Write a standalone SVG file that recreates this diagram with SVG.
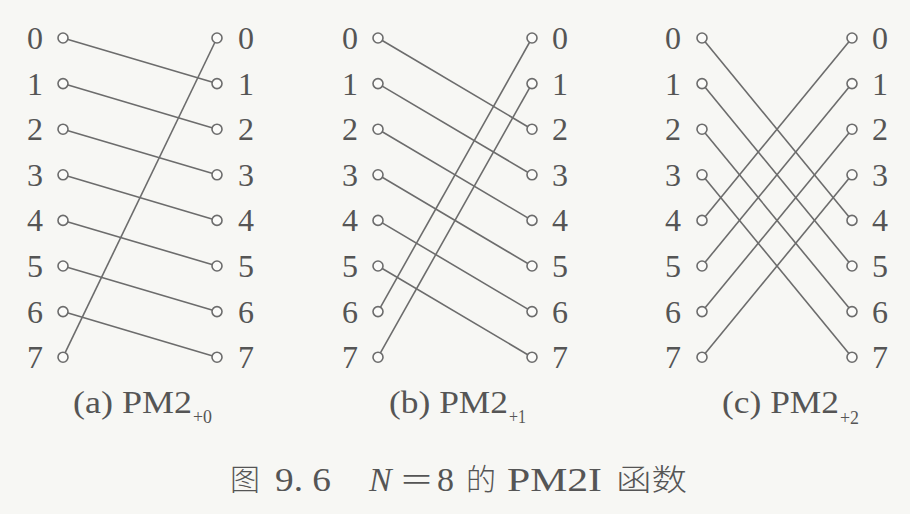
<svg xmlns="http://www.w3.org/2000/svg" width="910" height="514" viewBox="0 0 910 514">
<style>
.bg{fill:#f7f7f4}
.w{stroke:#6c6c6c;stroke-width:1.6;fill:none}
.p{fill:#fbfbf9;stroke:#6c6c6c;stroke-width:1.6}
.d{font-family:"Liberation Serif","Times New Roman",serif;font-size:32px;fill:#555;text-anchor:middle}
.cap{font-family:"Liberation Serif","Times New Roman",serif;font-size:31px;fill:#555}
.sub{font-family:"Liberation Serif","Times New Roman",serif;font-size:19px;fill:#555}
.main{font-family:"Liberation Serif","Times New Roman",serif;font-size:34px;fill:#555}
.cjk{font-family:"Noto Sans CJK SC",sans-serif;font-weight:300;font-size:30px;fill:#555}
</style>
<defs>
<circle id="pt" r="5" class="p"/>
</defs>
<rect class="bg" x="0" y="0" width="910" height="514"/>
<g id="connectors">
<!-- (a) PM2+0 : i -> i+1 -->
<line class="w" x1="63" y1="38" x2="217" y2="83.6"/>
<line class="w" x1="63" y1="83.6" x2="217" y2="129.2"/>
<line class="w" x1="63" y1="129.2" x2="217" y2="174.8"/>
<line class="w" x1="63" y1="174.8" x2="217" y2="220.4"/>
<line class="w" x1="63" y1="220.4" x2="217" y2="266"/>
<line class="w" x1="63" y1="266" x2="217" y2="311.6"/>
<line class="w" x1="63" y1="311.6" x2="217" y2="357.2"/>
<line class="w" x1="63" y1="357.2" x2="217" y2="38"/>
<!-- (b) PM2+1 : i -> i+2 -->
<line class="w" x1="378" y1="38" x2="532" y2="129.2"/>
<line class="w" x1="378" y1="83.6" x2="532" y2="174.8"/>
<line class="w" x1="378" y1="129.2" x2="532" y2="220.4"/>
<line class="w" x1="378" y1="174.8" x2="532" y2="266"/>
<line class="w" x1="378" y1="220.4" x2="532" y2="311.6"/>
<line class="w" x1="378" y1="266" x2="532" y2="357.2"/>
<line class="w" x1="378" y1="311.6" x2="532" y2="38"/>
<line class="w" x1="378" y1="357.2" x2="532" y2="83.6"/>
<!-- (c) PM2+2 : i -> i+4 -->
<line class="w" x1="702" y1="38" x2="852" y2="220.4"/>
<line class="w" x1="702" y1="83.6" x2="852" y2="266"/>
<line class="w" x1="702" y1="129.2" x2="852" y2="311.6"/>
<line class="w" x1="702" y1="174.8" x2="852" y2="357.2"/>
<line class="w" x1="702" y1="220.4" x2="852" y2="38"/>
<line class="w" x1="702" y1="266" x2="852" y2="83.6"/>
<line class="w" x1="702" y1="311.6" x2="852" y2="129.2"/>
<line class="w" x1="702" y1="357.2" x2="852" y2="174.8"/>
</g>

<!-- Panel (a) -->
<g id="a-in-0"><use href="#pt" x="63" y="38"/><text class="d" x="35" y="49">0</text></g>
<g id="a-in-1"><use href="#pt" x="63" y="83.6"/><text class="d" x="35" y="94.6">1</text></g>
<g id="a-in-2"><use href="#pt" x="63" y="129.2"/><text class="d" x="35" y="140.2">2</text></g>
<g id="a-in-3"><use href="#pt" x="63" y="174.8"/><text class="d" x="35" y="185.8">3</text></g>
<g id="a-in-4"><use href="#pt" x="63" y="220.4"/><text class="d" x="35" y="231.4">4</text></g>
<g id="a-in-5"><use href="#pt" x="63" y="266"/><text class="d" x="35" y="277">5</text></g>
<g id="a-in-6"><use href="#pt" x="63" y="311.6"/><text class="d" x="35" y="322.6">6</text></g>
<g id="a-in-7"><use href="#pt" x="63" y="357.2"/><text class="d" x="35" y="368.2">7</text></g>
<g id="a-out-0"><use href="#pt" x="217" y="38"/><text class="d" x="246" y="49">0</text></g>
<g id="a-out-1"><use href="#pt" x="217" y="83.6"/><text class="d" x="246" y="94.6">1</text></g>
<g id="a-out-2"><use href="#pt" x="217" y="129.2"/><text class="d" x="246" y="140.2">2</text></g>
<g id="a-out-3"><use href="#pt" x="217" y="174.8"/><text class="d" x="246" y="185.8">3</text></g>
<g id="a-out-4"><use href="#pt" x="217" y="220.4"/><text class="d" x="246" y="231.4">4</text></g>
<g id="a-out-5"><use href="#pt" x="217" y="266"/><text class="d" x="246" y="277">5</text></g>
<g id="a-out-6"><use href="#pt" x="217" y="311.6"/><text class="d" x="246" y="322.6">6</text></g>
<g id="a-out-7"><use href="#pt" x="217" y="357.2"/><text class="d" x="246" y="368.2">7</text></g>
<g id="a-caption"><text class="cap" x="73" y="413" textLength="119" lengthAdjust="spacingAndGlyphs">(a) PM2</text><text class="sub" x="193" y="423" textLength="19" lengthAdjust="spacingAndGlyphs">+0</text></g>

<!-- Panel (b) -->
<g id="b-in-0"><use href="#pt" x="378" y="38"/><text class="d" x="350" y="49">0</text></g>
<g id="b-in-1"><use href="#pt" x="378" y="83.6"/><text class="d" x="350" y="94.6">1</text></g>
<g id="b-in-2"><use href="#pt" x="378" y="129.2"/><text class="d" x="350" y="140.2">2</text></g>
<g id="b-in-3"><use href="#pt" x="378" y="174.8"/><text class="d" x="350" y="185.8">3</text></g>
<g id="b-in-4"><use href="#pt" x="378" y="220.4"/><text class="d" x="350" y="231.4">4</text></g>
<g id="b-in-5"><use href="#pt" x="378" y="266"/><text class="d" x="350" y="277">5</text></g>
<g id="b-in-6"><use href="#pt" x="378" y="311.6"/><text class="d" x="350" y="322.6">6</text></g>
<g id="b-in-7"><use href="#pt" x="378" y="357.2"/><text class="d" x="350" y="368.2">7</text></g>
<g id="b-out-0"><use href="#pt" x="532" y="38"/><text class="d" x="560" y="49">0</text></g>
<g id="b-out-1"><use href="#pt" x="532" y="83.6"/><text class="d" x="560" y="94.6">1</text></g>
<g id="b-out-2"><use href="#pt" x="532" y="129.2"/><text class="d" x="560" y="140.2">2</text></g>
<g id="b-out-3"><use href="#pt" x="532" y="174.8"/><text class="d" x="560" y="185.8">3</text></g>
<g id="b-out-4"><use href="#pt" x="532" y="220.4"/><text class="d" x="560" y="231.4">4</text></g>
<g id="b-out-5"><use href="#pt" x="532" y="266"/><text class="d" x="560" y="277">5</text></g>
<g id="b-out-6"><use href="#pt" x="532" y="311.6"/><text class="d" x="560" y="322.6">6</text></g>
<g id="b-out-7"><use href="#pt" x="532" y="357.2"/><text class="d" x="560" y="368.2">7</text></g>
<g id="b-caption"><text class="cap" x="389" y="413" textLength="119" lengthAdjust="spacingAndGlyphs">(b) PM2</text><text class="sub" x="509" y="423" textLength="17" lengthAdjust="spacingAndGlyphs">+1</text></g>

<!-- Panel (c) -->
<g id="c-in-0"><use href="#pt" x="702" y="38"/><text class="d" x="673" y="49">0</text></g>
<g id="c-in-1"><use href="#pt" x="702" y="83.6"/><text class="d" x="673" y="94.6">1</text></g>
<g id="c-in-2"><use href="#pt" x="702" y="129.2"/><text class="d" x="673" y="140.2">2</text></g>
<g id="c-in-3"><use href="#pt" x="702" y="174.8"/><text class="d" x="673" y="185.8">3</text></g>
<g id="c-in-4"><use href="#pt" x="702" y="220.4"/><text class="d" x="673" y="231.4">4</text></g>
<g id="c-in-5"><use href="#pt" x="702" y="266"/><text class="d" x="673" y="277">5</text></g>
<g id="c-in-6"><use href="#pt" x="702" y="311.6"/><text class="d" x="673" y="322.6">6</text></g>
<g id="c-in-7"><use href="#pt" x="702" y="357.2"/><text class="d" x="673" y="368.2">7</text></g>
<g id="c-out-0"><use href="#pt" x="852" y="38"/><text class="d" x="880" y="49">0</text></g>
<g id="c-out-1"><use href="#pt" x="852" y="83.6"/><text class="d" x="880" y="94.6">1</text></g>
<g id="c-out-2"><use href="#pt" x="852" y="129.2"/><text class="d" x="880" y="140.2">2</text></g>
<g id="c-out-3"><use href="#pt" x="852" y="174.8"/><text class="d" x="880" y="185.8">3</text></g>
<g id="c-out-4"><use href="#pt" x="852" y="220.4"/><text class="d" x="880" y="231.4">4</text></g>
<g id="c-out-5"><use href="#pt" x="852" y="266"/><text class="d" x="880" y="277">5</text></g>
<g id="c-out-6"><use href="#pt" x="852" y="311.6"/><text class="d" x="880" y="322.6">6</text></g>
<g id="c-out-7"><use href="#pt" x="852" y="357.2"/><text class="d" x="880" y="368.2">7</text></g>
<g id="c-caption"><text class="cap" x="722" y="413" textLength="117" lengthAdjust="spacingAndGlyphs">(c) PM2</text><text class="sub" x="840" y="424" textLength="19" lengthAdjust="spacingAndGlyphs">+2</text></g>

<!-- Figure caption -->
<g id="figure-caption">
<text class="cjk" x="230" y="490">图</text>
<text class="main" x="275" y="491" textLength="56" lengthAdjust="spacingAndGlyphs">9. 6</text>
<text class="main" x="369" y="491" font-style="italic">N</text>
<text class="main" x="401" y="491" textLength="31" lengthAdjust="spacingAndGlyphs">=</text>
<text class="main" x="437" y="491">8</text>
<text class="cjk" x="466" y="490">的</text>
<text class="main" x="507" y="491" textLength="95" lengthAdjust="spacingAndGlyphs">PM2I</text>
<text class="cjk" x="616" y="490" textLength="71" lengthAdjust="spacingAndGlyphs">函数</text>
</g>
</svg>
